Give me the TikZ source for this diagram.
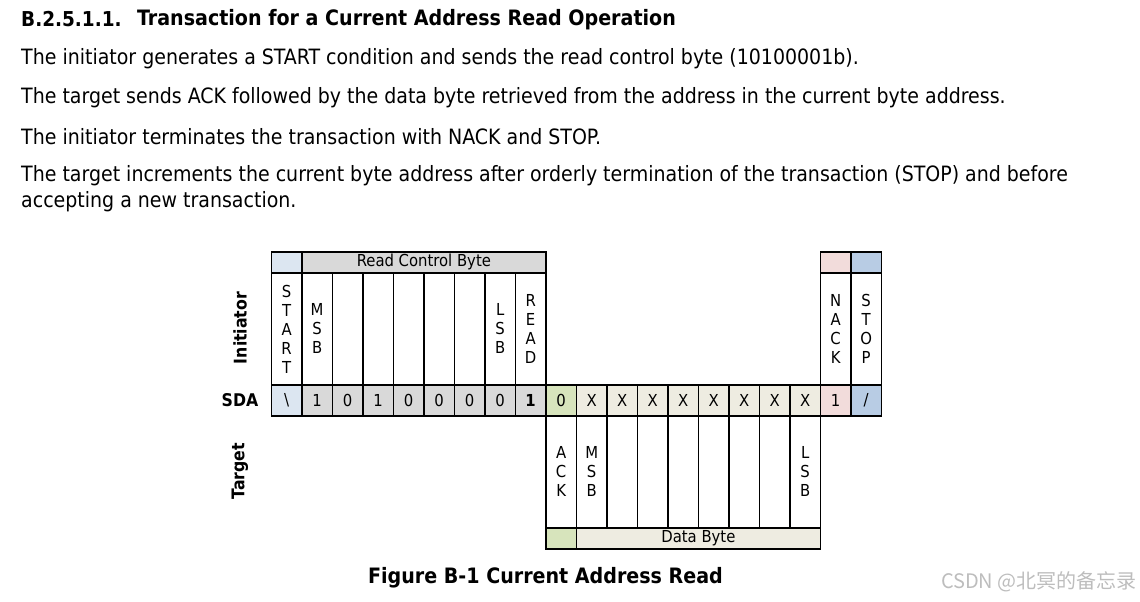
\documentclass[tikz,border=0pt]{standalone}
\usepackage{fontspec}
\setmainfont{DejaVu Sans Condensed}
\newfontfamily\cjk{Noto Sans CJK SC}
\usetikzlibrary{positioning}
\definecolor{startblue}{HTML}{DCE6F1}
\definecolor{stopblue}{HTML}{B8CCE4}
\definecolor{ctrlgray}{HTML}{D9D9D9}
\definecolor{ackgreen}{HTML}{D7E4BC}
\definecolor{databeige}{HTML}{EEECE1}
\definecolor{nackpink}{HTML}{F2DCDB}
\definecolor{markgray}{HTML}{BDBDBD}

\tikzset{
  cellbox/.style={draw=black, line width=1.8pt, inner sep=0pt, anchor=north west,
    minimum width=30.5pt, font=\fontsize{16.5}{19}\selectfont, align=center},
  bitcell/.style={cellbox, minimum height=31pt},
  lblcell/.style={cellbox, minimum height=112pt},
  capcell/.style={cellbox, minimum height=21pt, font=\fontsize{16.5}{18}\selectfont},
  rowlbl/.style={font=\bfseries\fontsize{17.5}{19}\selectfont},
  bodytxt/.style={anchor=west, inner sep=0pt, font=\fontsize{21.1}{26}\selectfont, align=left}
}

\begin{document}
\begin{tikzpicture}[x=1pt, y=-1pt]
\useasboundingbox (0,0) rectangle (1140,602);
\def\xo{270.5}  % left edge of START column
\def\cw{30.5}   % column width

%% Text above the diagram
\node[bodytxt, font=\bfseries\fontsize{20.5}{24}\selectfont] (secnum) at (21,19.5) {B.2.5.1.1.};
\node[bodytxt, font=\bfseries\fontsize{21.2}{24}\selectfont] (sectitle) at (137,19.5) {Transaction for a Current Address Read Operation};
\node[bodytxt] (line1) at (21,59) {The initiator generates a START condition and sends the read control byte (10100001b).};
\node[bodytxt] (line2) at (21,98) {The target sends ACK followed by the data byte retrieved from the address in the current byte address.};
\node[bodytxt] (line3) at (21,137) {The initiator terminates the transaction with NACK and STOP.};
\node[bodytxt] (line4) at (21,189) {The target increments the current byte address after orderly termination of the transaction (STOP) and before\\accepting a new transaction.};

%% Row labels
\node[rowlbl, rotate=90] (inilbl) at (240,328) {Initiator};
\node[rowlbl] (sdalbl) at (240,400) {SDA};
\node[rowlbl, rotate=90] (tgtlbl) at (240,471) {Target};

%% Initiator side: caption row and field names
\node[capcell, fill=startblue] (capstart) at (\xo,251) {};
\node[capcell, fill=ctrlgray, minimum width=8*\cw] (capctrl) at (\xo+\cw,251) {Read Control Byte};
\node[capcell, fill=nackpink] (capnack) at (\xo+18*\cw,251) {};
\node[capcell, fill=stopblue] (capstop) at (\xo+19*\cw,251) {};
\foreach \lbl [count=\i from 0] in {{S\\T\\A\\R\\T},{M\\S\\B},{},{},{},{},{},{L\\S\\B},{R\\E\\A\\D}}{
  \node[lblcell] (ini\i) at (\xo+\i*\cw,272) {\lbl};
}
\node[lblcell] (ini18) at (\xo+18*\cw,272) {N\\A\\C\\K};
\node[lblcell] (ini19) at (\xo+19*\cw,272) {S\\T\\O\\P};

%% SDA line
\node[bitcell, fill=startblue] (sda0) at (\xo,384) {\textbackslash};
\foreach \b [count=\i from 1] in {1,0,1,0,0,0,0,\textbf{1}}{
  \node[bitcell, fill=ctrlgray] (sda\i) at (\xo+\i*\cw,384) {\b};
}
\node[bitcell, fill=ackgreen] (sda9) at (\xo+9*\cw,384) {0};
\foreach \i in {10,...,17}{
  \node[bitcell, fill=databeige] (sda\i) at (\xo+\i*\cw,384) {X};
}
\node[bitcell, fill=nackpink] (sda18) at (\xo+18*\cw,384) {1};
\node[bitcell, fill=stopblue] (sda19) at (\xo+19*\cw,384) {/};

%% Target side: field names and caption row
\foreach \lbl [count=\i from 9] in {{A\\C\\K},{M\\S\\B},{},{},{},{},{},{},{L\\S\\B}}{
  \node[lblcell] (tgt\i) at (\xo+\i*\cw,415) {\lbl};
}
\node[capcell, fill=ackgreen] (capack) at (\xo+9*\cw,527) {};
\node[capcell, fill=databeige, minimum width=8*\cw] (capdata) at (\xo+10*\cw,527) {Data Byte};

%% Caption and watermark
\node[font=\bfseries\fontsize{21.2}{24}\selectfont, inner sep=0pt] (figcap) at (545.5,577.5) {Figure B-1 Current Address Read};
\node[font=\cjk\fontsize{20}{22}\selectfont, text=markgray, anchor=east, inner sep=0pt] (wmark) at (1137,582) {CSDN @北冥的备忘录};
\end{tikzpicture}
\end{document}
